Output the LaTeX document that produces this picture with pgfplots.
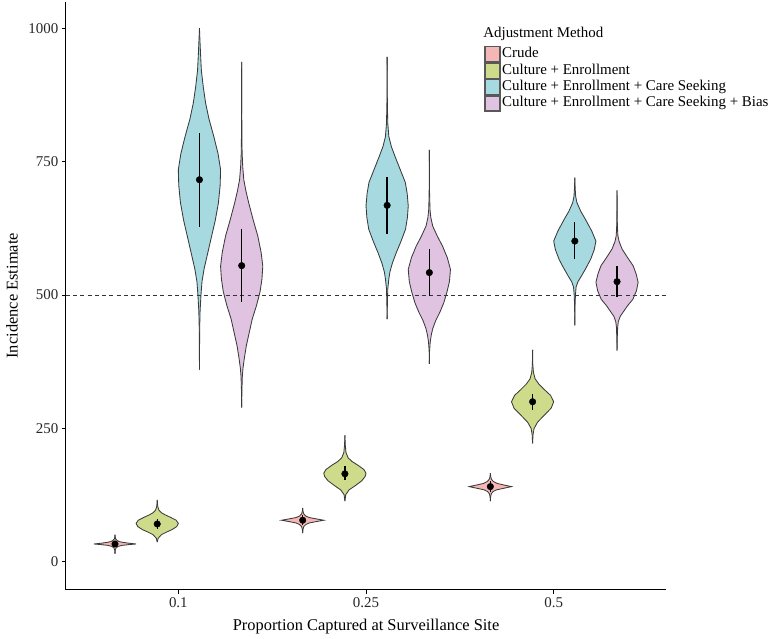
\documentclass[border=0pt]{standalone}
\usepackage{fontspec}
\setmainfont{Liberation Serif}
\usepackage{pgfplots}
\pgfplotsset{compat=1.18}
\usepgfplotslibrary{fillbetween}
\usepackage{pgfplotstable}
\definecolor{crude}{RGB}{245,183,181}
\definecolor{cegreen}{RGB}{206,219,138}
\definecolor{cecyan}{RGB}{166,217,224}
\definecolor{cepurple}{RGB}{223,195,224}
\definecolor{outl}{RGB}{58,58,58}

% ---- violin outlines: y value, relative half-width w (1 = full) ----
\pgfplotstableread{
y w
15 0
22 0.015
26 0.05
29 0.15
31 0.35
32.5 0.7
33.5 1
35 0.65
36.5 0.38
38 0.2
40 0.1
43 0.035
46 0.012
51 0
}\crA
\pgfplotstableread{
y w
54 0
61 0.015
66 0.05
70 0.15
73 0.32
75.5 0.65
78 1
80.5 0.65
83 0.32
86 0.14
90 0.05
95 0.015
101 0
}\crB
\pgfplotstableread{
y w
114 0
122 0.012
128 0.05
132 0.14
135 0.3
138 0.65
141 1
144 0.65
147 0.32
151 0.13
155 0.05
160 0.015
166 0
}\crC
\pgfplotstableread{
y w
37 0
44 0.04
51 0.2
56 0.45
60 0.68
66 0.92
72 1
78 0.9
84 0.6
88 0.38
92 0.2
97 0.08
103 0.03
109 0.01
116 0
}\grA
\pgfplotstableread{
y w
114 0
126 0.04
135 0.2
143 0.5
152 0.8
160 0.96
166 1
173 0.9
181 0.62
188 0.34
195 0.15
205 0.05
220 0.015
237 0
}\grB
\pgfplotstableread{
y w
222 0
238 0.02
250 0.07
262 0.24
275 0.56
288 0.88
300 1
312 0.85
322 0.58
333 0.3
343 0.12
355 0.04
370 0.01
397 0
}\grC
\pgfplotstableread{
y w
360 0
400 0.004
440 0.012
470 0.03
499 0.07
525 0.12
549 0.22
580 0.4
611 0.58
640 0.75
673 0.9
705 0.98
735 1.0
765 0.88
797 0.68
830 0.45
860 0.29
890 0.18
921 0.09
953 0.05
980 0.02
1000 0
}\cyA
\pgfplotstableread{
y w
455 0
480 0.01
511 0.03
530 0.08
543 0.13
560 0.25
580 0.44
600 0.65
623 0.87
645 0.96
667 1.0
690 0.95
711 0.86
735 0.62
760 0.37
778 0.2
797 0.08
822 0.03
860 0.01
946 0
}\cyB
\pgfplotstableread{
y w
443 0
480 0.01
500 0.03
515 0.06
525 0.15
536 0.32
552 0.55
567 0.75
585 0.92
601 1.0
620 0.8
642 0.5
657 0.28
673 0.1
685 0.04
700 0.015
720 0
}\cyC
\pgfplotstableread{
y w
289 0
320 0.01
347 0.03
362 0.06
380 0.12
405 0.22
430 0.36
455 0.5
480 0.7
506 0.87
530 0.96
554 1.0
580 0.92
611 0.76
640 0.55
673 0.33
695 0.2
716 0.1
740 0.05
767 0.02
800 0.01
850 0.004
937 0
}\puA
\pgfplotstableread{
y w
371 0
395 0.01
412 0.04
425 0.09
437 0.16
452 0.3
468 0.5
485 0.68
505 0.83
525 0.95
548 1.0
570 0.85
592 0.62
610 0.38
629 0.16
645 0.07
660 0.03
690 0.01
772 0
}\puB
\pgfplotstableread{
y w
396 0
420 0.01
440 0.03
450 0.06
460 0.15
468 0.29
480 0.5
492 0.75
508 0.92
524 1.0
540 0.9
555 0.76
570 0.5
586 0.24
600 0.1
611 0.04
630 0.015
660 0.005
696 0
}\puC

% #1 centre, #2 table, #3 fill colour, #4 id
\newcommand{\violin}[4]{%
  \addplot[forget plot, draw=outl, line width=0.85pt, name path=R#4]
    table[x expr={#1+0.1125*\thisrow{w}}, y=y] {#2};
  \addplot[forget plot, draw=outl, line width=0.85pt, name path=L#4]
    table[x expr={#1-0.1125*\thisrow{w}}, y=y] {#2};
  \addplot[forget plot, fill=#3, draw=none] fill between[of=R#4 and L#4];
}

\newcommand{\legkey}[1]{\addlegendimage{legend image code/.code={%
  \draw[fill=#1, draw=outl!85, line width=1.3pt] (0pt,-7.6pt) rectangle (15.2pt,7.6pt);}}}

\begin{document}
\begin{tikzpicture}
\begin{axis}[
  at={(0pt,0pt)}, anchor=south west,
  scale only axis, width=603pt, height=590pt,
  xmin=0.4, xmax=3.6, ymin=-52, ymax=1049,
  xtick={1,2,3}, xticklabels={0.1,0.25,0.5},
  ytick={0,250,500,750,1000},
  axis x line*=bottom, axis y line*=left,
  axis line style={black, line width=0.9pt},
  tick align=outside, major tick length=4pt,
  tick style={black, line width=0.8pt},
  /pgf/number format/assume math mode=true,
  /pgf/number format/1000 sep={},
  ticklabel style={font=\fontsize{15}{17}\selectfont, text=black!85},
  xlabel={Proportion Captured at Surveillance Site},
  ylabel={Incidence Estimate},
  xlabel style={font=\fontsize{16.5}{19}\selectfont, at={(axis description cs:0.5,-0.0627)}, anchor=center},
  ylabel style={font=\fontsize{16.5}{19}\selectfont, at={(axis description cs:-0.0896,0.5)}, anchor=center},
  legend style={at={(axis description cs:0.6965,0.9254)}, anchor=north west,
    draw=none, fill=none, inner sep=0pt, row sep=0pt,
    font=\fontsize{15}{16}\selectfont,
    nodes={inner ysep=0pt, inner xsep=1.5pt, text height=11pt, text depth=4.2pt},
    /tikz/every even column/.style={column sep=0pt}},
  legend cell align=left,
]
\legkey{crude}\addlegendentry{Crude}
\legkey{cegreen}\addlegendentry{Culture + Enrollment}
\legkey{cecyan}\addlegendentry{Culture + Enrollment + Care Seeking}
\legkey{cepurple}\addlegendentry{Culture + Enrollment + Care Seeking + Bias}

\addplot[forget plot, draw=black!80, line width=0.9pt, dash pattern=on 4pt off 3.3pt]
  coordinates {(0.4,500) (3.6,500)};

\violin{0.6625}{\crA}{crude}{a1}
\violin{0.8875}{\grA}{cegreen}{a2}
\violin{1.1125}{\cyA}{cecyan}{a3}
\violin{1.3375}{\puA}{cepurple}{a4}
\violin{1.6625}{\crB}{crude}{b1}
\violin{1.8875}{\grB}{cegreen}{b2}
\violin{2.1125}{\cyB}{cecyan}{b3}
\violin{2.3375}{\puB}{cepurple}{b4}
\violin{2.6625}{\crC}{crude}{c1}
\violin{2.8875}{\grC}{cegreen}{c2}
\violin{3.1125}{\cyC}{cecyan}{c3}
\violin{3.3375}{\puC}{cepurple}{c4}

\addplot[forget plot, only marks, mark=none, black,
  error bars/.cd, y dir=both, y explicit, error mark=none,
  error bar style={line width=1.3pt, black}]
  coordinates {
  (0.6625,33.5) += (0,4.5) -= (0,4.5)
  (0.8875,71) += (0,9) -= (0,9)
  (1.1125,716) += (0,88) -= (0,89)
  (1.3375,555) += (0,68) -= (0,68)
  (1.6625,78) += (0,9) -= (0,8)
  (1.8875,165) += (0,14) -= (0,12)
  (2.1125,668) += (0,54) -= (0,54)
  (2.3375,542) += (0,44) -= (0,43)
  (2.6625,141) += (0,10) -= (0,10)
  (2.8875,300) += (0,15) -= (0,16)
  (3.1125,601) += (0,35) -= (0,34)
  (3.3375,525) += (0,30) -= (0,29)
  };

\addplot[forget plot, only marks, mark=*, mark size=3.3pt, black]
  coordinates {
  (0.6625,33.5) (0.8875,71) (1.1125,716) (1.3375,555)
  (1.6625,78) (1.8875,165) (2.1125,668) (2.3375,542)
  (2.6625,141) (2.8875,300) (3.1125,601) (3.3375,525)
  };

\node[anchor=west, font=\fontsize{15}{17}\selectfont, inner sep=0pt]
  at (axis description cs:0.695,0.9458) {Adjustment Method};
\end{axis}
\path (-66pt,-49pt) rectangle (704pt,592pt);
\end{tikzpicture}
\end{document}
